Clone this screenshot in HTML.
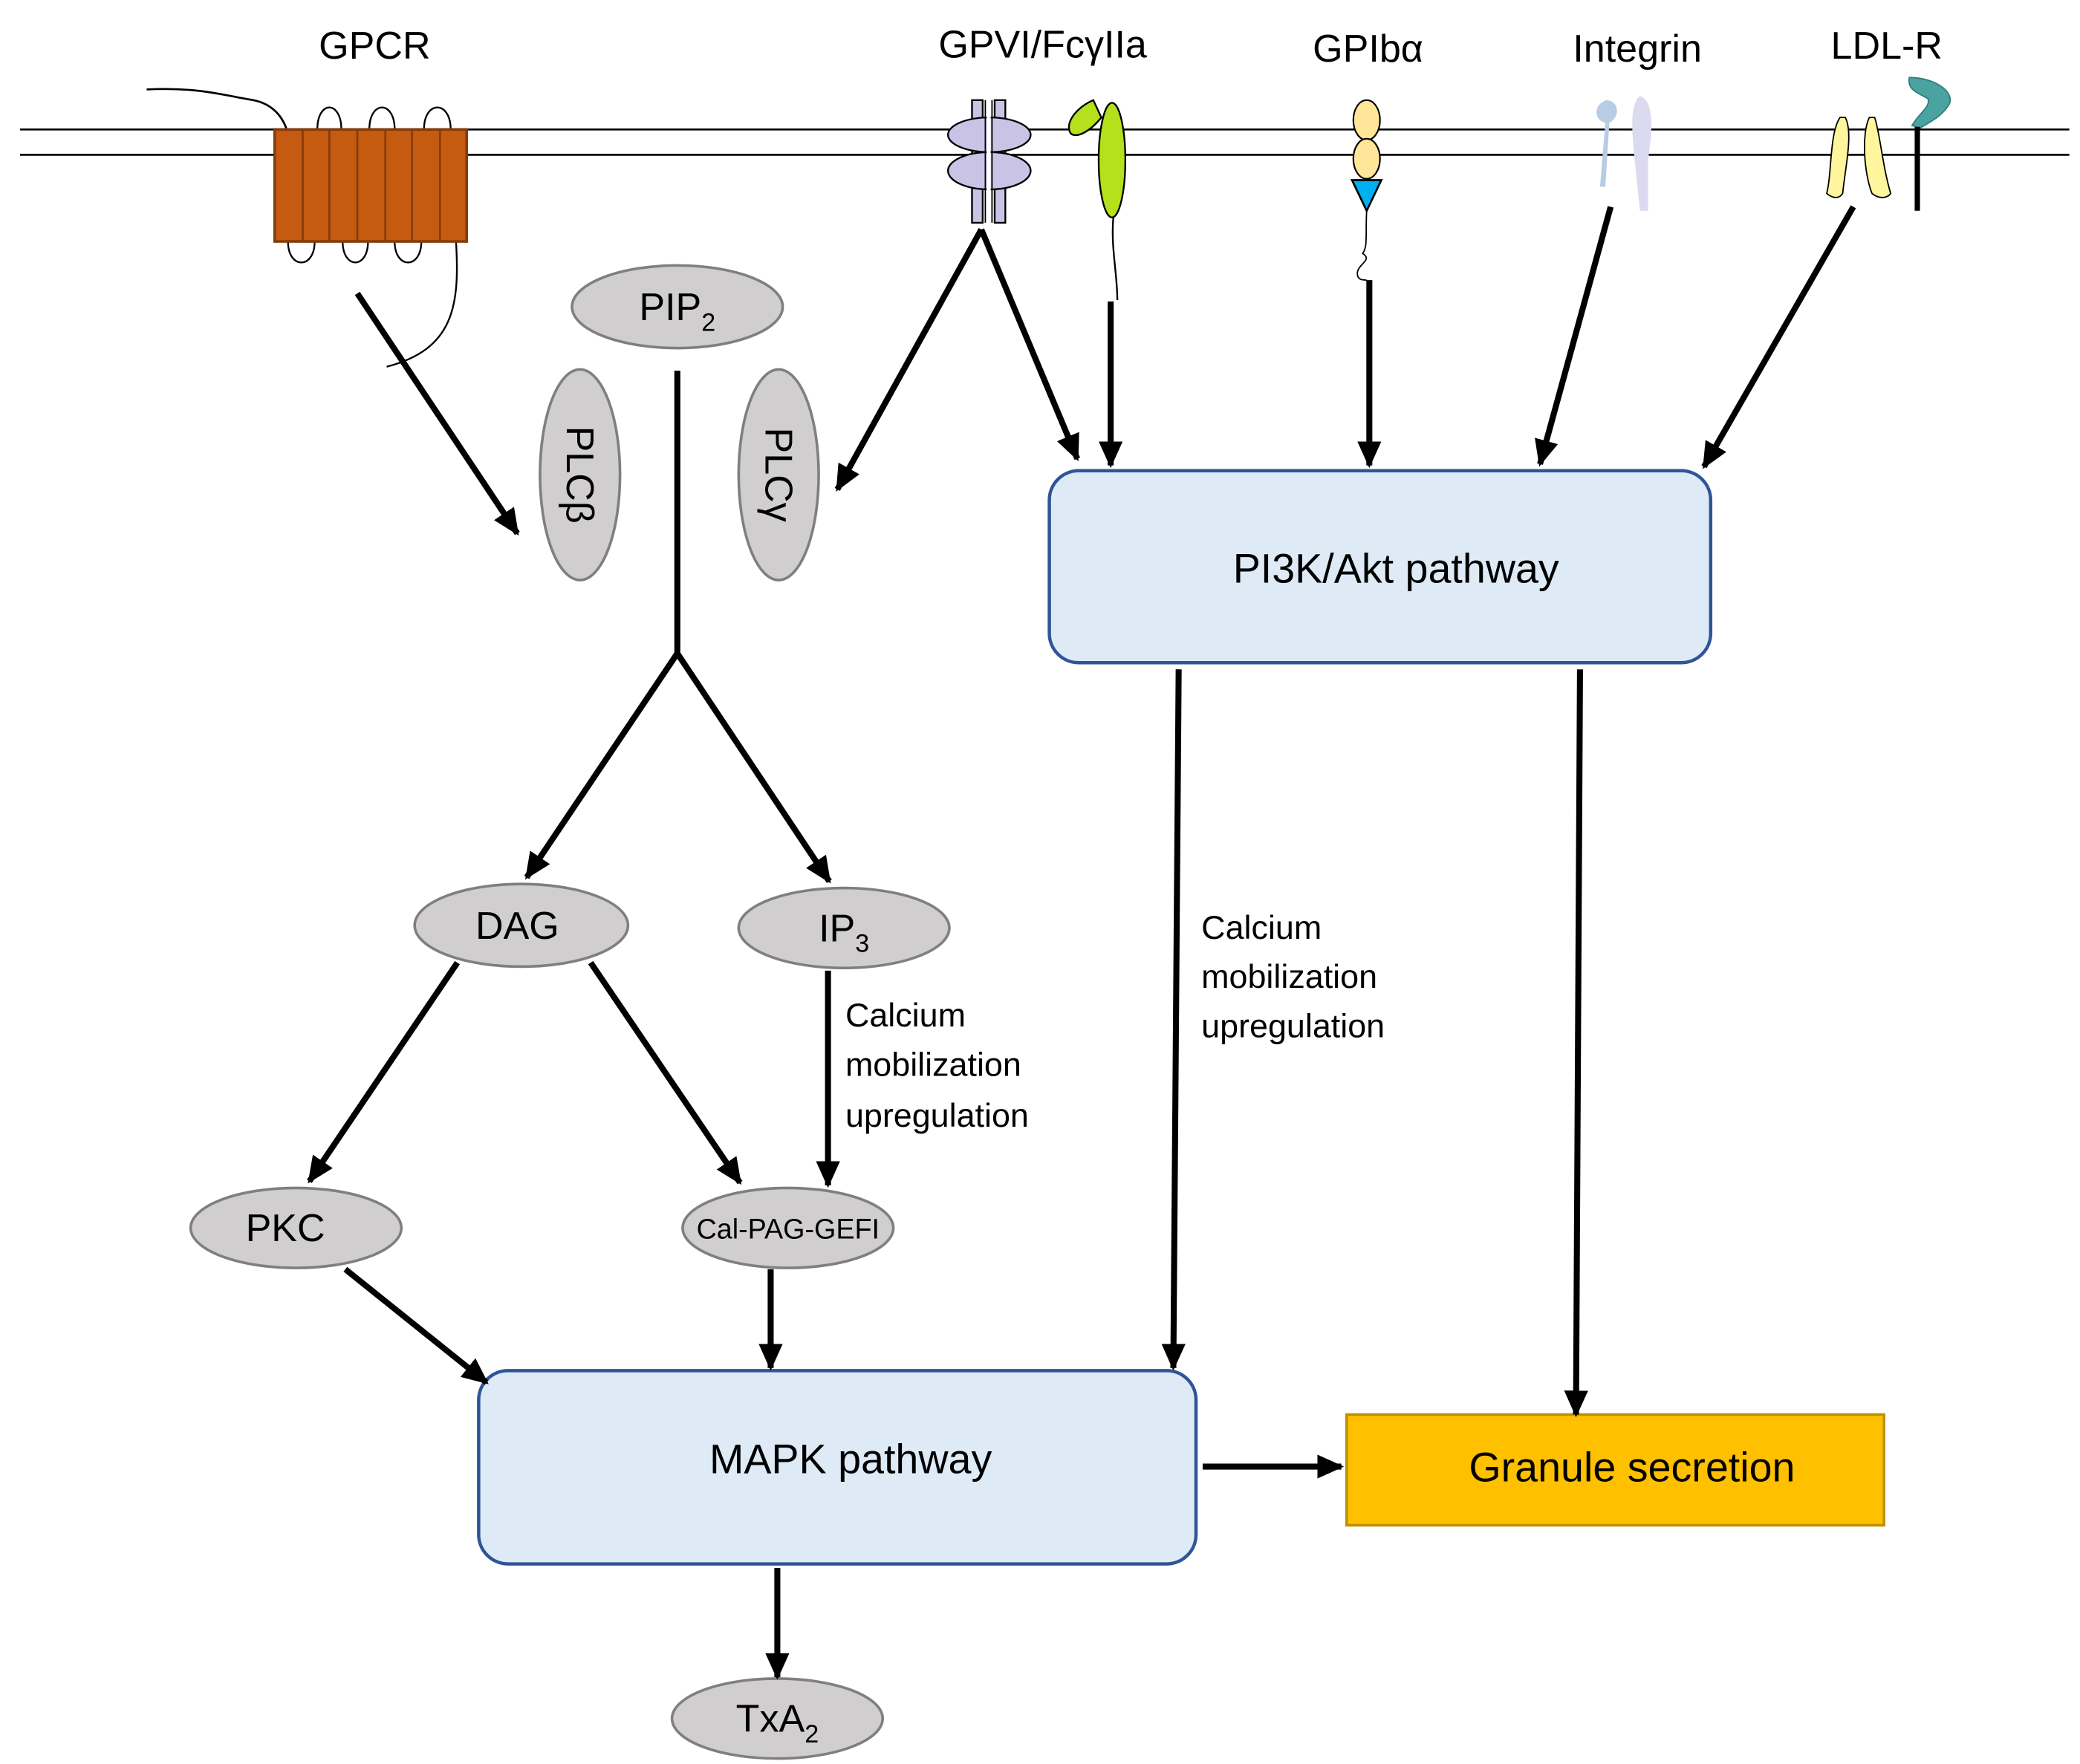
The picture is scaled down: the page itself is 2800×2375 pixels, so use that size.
<!DOCTYPE html>
<html><head><meta charset="utf-8"><style>html,body{margin:0;padding:0;background:#fff}svg{display:block}text{font-family:"Liberation Sans",sans-serif;fill:#000}</style></head>
<body>
<svg width="2800" height="2375" viewBox="0 0 1560 1323" xmlns="http://www.w3.org/2000/svg">
<defs>
<marker id="a" markerUnits="userSpaceOnUse" markerWidth="20" markerHeight="18" refX="18" refY="9" orient="auto"><path d="M0,0 L20,9 L0,18 Z" fill="#000"/></marker>
</defs>
<rect width="1560" height="1323" fill="#fff"/>
<!-- membrane -->
<line x1="15" y1="97" x2="1552" y2="97" stroke="#000" stroke-width="1.5"/>
<line x1="15" y1="116" x2="1552" y2="116" stroke="#000" stroke-width="1.5"/>
<!-- labels -->
<g font-size="29" text-anchor="middle">
<text x="281" y="44">GPCR</text>
<text x="782" y="43">GPVI/FcγIIa</text>
<text x="1026" y="46">GPIbα</text>
<text x="1228" y="46">Integrin</text>
<text x="1415" y="44">LDL-R</text>
</g>
<!-- GPCR -->
<path d="M110,67 C150,65 170,72 190,75 C205,78 212,88 215,97" fill="none" stroke="#000" stroke-width="1.5"/>
<g fill="none" stroke="#000" stroke-width="1.3">
<path d="M238,97 C238,75 256,75 256,97"/><path d="M277,97 C277,75 296,75 296,97"/><path d="M318,97 C318,75 338,75 338,97"/>
<path d="M216,181 C216,202 236,202 236,181"/><path d="M257,181 C257,202 276,202 276,181"/><path d="M296,181 C296,202 316,202 316,181"/>
<path d="M342,181 C345,230 340,262 290,275"/>
</g>
<rect x="206" y="97" width="144" height="84" fill="#C55A11" stroke="#843C0C" stroke-width="2"/>
<g stroke="#843C0C" stroke-width="1.5"><line x1="227" y1="97" x2="227" y2="181"/><line x1="247" y1="97" x2="247" y2="181"/><line x1="268" y1="97" x2="268" y2="181"/><line x1="289" y1="97" x2="289" y2="181"/><line x1="309" y1="97" x2="309" y2="181"/><line x1="330" y1="97" x2="330" y2="181"/></g>
<!-- GPVI -->
<g fill="#C9C3E6" stroke="#000" stroke-width="1.3">
<rect x="729" y="75" width="8" height="92"/><rect x="746" y="75" width="8" height="92"/>
<ellipse cx="742" cy="101" rx="31" ry="13"/><ellipse cx="742" cy="128" rx="31" ry="14"/>
</g>
<line x1="741.5" y1="75" x2="741.5" y2="167" stroke="#fff" stroke-width="3"/>
<line x1="739" y1="75" x2="739" y2="167" stroke="#000" stroke-width="1"/><line x1="744" y1="75" x2="744" y2="167" stroke="#000" stroke-width="1"/>
<!-- FcgIIa -->
<path d="M820,75 C808,80 798,92 803,100 C808,104 818,98 826,88 Z" fill="#B4E01C" stroke="#000" stroke-width="1.3"/>
<ellipse cx="834" cy="120" rx="10" ry="43" fill="#B4E01C" stroke="#000" stroke-width="1.3"/>
<path d="M835,163 C833,185 838,205 838,225" fill="none" stroke="#000" stroke-width="1.3"/>
<!-- GPIb -->
<ellipse cx="1025" cy="90" rx="10" ry="15" fill="#FFE699" stroke="#000" stroke-width="1.2"/>
<ellipse cx="1025" cy="119" rx="10" ry="15" fill="#FFE699" stroke="#000" stroke-width="1.2"/>
<path d="M1014,135 L1036,135 L1025,158 Z" fill="#00B0F0" stroke="#000" stroke-width="1.5"/>
<path d="M1025,158 C1024,175 1026,185 1022,190 C1030,195 1018,198 1018,205 C1018,210 1022,210 1025,210" fill="none" stroke="#000" stroke-width="1"/>
<!-- Integrin -->
<path d="M1205,75 C1195,78 1195,90 1204,92 L1200,140 L1204,140 L1207,92 C1215,88 1215,76 1205,75 Z" fill="#B8CCE4"/>
<path d="M1230,72 C1222,78 1224,100 1226,120 L1230,158 L1236,158 L1236,120 C1240,95 1240,75 1230,72 Z" fill="#DCDAF0"/>
<!-- LDL-R -->
<path d="M1380,88 C1372,100 1374,130 1370,145 C1376,150 1380,148 1382,145 C1384,125 1390,100 1384,88 Z" fill="#FFF59D" stroke="#000" stroke-width="1"/>
<path d="M1402,88 C1396,100 1398,130 1404,145 C1410,150 1416,148 1418,145 C1412,125 1410,100 1406,88 Z" fill="#FFF59D" stroke="#000" stroke-width="1"/>
<path d="M1432,58 C1450,58 1466,68 1462,78 C1456,88 1446,92 1440,96 L1434,94 C1440,84 1448,80 1446,74 C1440,70 1430,68 1432,58 Z" fill="#4AA3A0" stroke="#2F7F7C" stroke-width="1"/>
<line x1="1438" y1="95" x2="1438" y2="158" stroke="#000" stroke-width="4"/>
<!-- ellipses -->
<g fill="#D0CECE" stroke="#7F7F7F" stroke-width="2">
<ellipse cx="508" cy="230" rx="79" ry="31"/>
<ellipse cx="435" cy="356" rx="30" ry="79"/>
<ellipse cx="584" cy="356" rx="30" ry="79"/>
<ellipse cx="391" cy="694" rx="80" ry="31"/>
<ellipse cx="633" cy="696" rx="79" ry="30"/>
<ellipse cx="222" cy="921" rx="79" ry="30"/>
<ellipse cx="591" cy="921" rx="79" ry="30"/>
<ellipse cx="583" cy="1289" rx="79" ry="30"/>
</g>
<g font-size="29" text-anchor="middle">
<text x="508" y="240">PIP<tspan font-size="19" dy="8">2</tspan></text>
<text transform="translate(425,356) rotate(90)" y="0">PLCβ</text>
<text transform="translate(574,356) rotate(90)" y="0">PLCγ</text>
<text x="388" y="704">DAG</text>
<text x="633" y="706">IP<tspan font-size="19" dy="8">3</tspan></text>
<text x="214" y="931">PKC</text>
<text x="583" y="1299">TxA<tspan font-size="19" dy="8">2</tspan></text>
</g>
<text x="591" y="929" font-size="21" text-anchor="middle">Cal-PAG-GEFI</text>
<!-- boxes -->
<rect x="787" y="353" width="496" height="144" rx="22" fill="#DEEBF7" stroke="#2F5597" stroke-width="2.5"/>
<text x="1047" y="437" font-size="31" text-anchor="middle">PI3K/Akt pathway</text>
<rect x="359" y="1028" width="538" height="145" rx="22" fill="#DEEBF7" stroke="#2F5597" stroke-width="2.5"/>
<text x="638" y="1105" font-size="31" text-anchor="middle">MAPK pathway</text>
<rect x="1010" y="1061" width="403" height="83" fill="#FFC000" stroke="#BF9000" stroke-width="2"/>
<text x="1224" y="1111" font-size="31" text-anchor="middle">Granule secretion</text>
<!-- side text -->
<g font-size="25">
<text x="634" y="770">Calcium</text><text x="634" y="807">mobilization</text><text x="634" y="845">upregulation</text>
<text x="901" y="704">Calcium</text><text x="901" y="741">mobilization</text><text x="901" y="778">upregulation</text>
</g>
<!-- arrows -->
<g stroke="#000" stroke-width="4.5" fill="none">
<line x1="268" y1="220" x2="388" y2="400" marker-end="url(#a)"/>
<line x1="508" y1="278" x2="508" y2="490"/>
<line x1="508" y1="490" x2="395" y2="658" marker-end="url(#a)"/>
<line x1="508" y1="490" x2="622" y2="661" marker-end="url(#a)"/>
<line x1="736" y1="172" x2="628" y2="367" marker-end="url(#a)"/>
<line x1="736" y1="172" x2="808" y2="344" marker-end="url(#a)"/>
<line x1="833" y1="226" x2="833" y2="349" marker-end="url(#a)"/>
<line x1="1027" y1="210" x2="1027" y2="349" marker-end="url(#a)"/>
<line x1="1208" y1="155" x2="1155" y2="348" marker-end="url(#a)"/>
<line x1="1390" y1="155" x2="1278" y2="350" marker-end="url(#a)"/>
<line x1="343" y1="722" x2="232" y2="886" marker-end="url(#a)"/>
<line x1="443" y1="722" x2="555" y2="887" marker-end="url(#a)"/>
<line x1="621" y1="728" x2="621" y2="889" marker-end="url(#a)"/>
<line x1="259" y1="952" x2="365" y2="1037" marker-end="url(#a)"/>
<line x1="578" y1="952" x2="578" y2="1026" marker-end="url(#a)"/>
<line x1="884" y1="502" x2="880" y2="1026" marker-end="url(#a)"/>
<line x1="1185" y1="502" x2="1182" y2="1061" marker-end="url(#a)"/>
<line x1="902" y1="1100" x2="1006" y2="1100" marker-end="url(#a)"/>
<line x1="583" y1="1176" x2="583" y2="1258" marker-end="url(#a)"/>
</g>
</svg>
</body></html>
